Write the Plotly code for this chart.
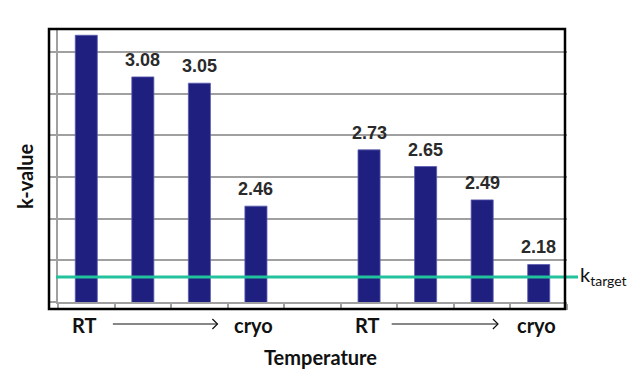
import plotly.graph_objects as go

# ---- data ----
positions = [0, 1, 2, 3, 4, 5, 6, 7, 8]
k_values = [3.28, 3.08, 3.05, 2.46, None, 2.73, 2.65, 2.49, 2.18]
bar_labels = ["", "3.08", "3.05", "2.46", "", "2.73", "2.65", "2.49", "2.18"]
k_target = 2.12
group_labels = ["RT", "cryo", "RT", "cryo"]
group_label_pos = [0, 3, 5, 8]
y_ticks = [2.0, 2.2, 2.4, 2.6, 2.8, 3.0, 3.2]
y_range = [2.0, 3.31]

# page body has an 8px default margin; compensate
OFF = 8
W, H = 640 - OFF, 382 - OFF
L, R, T, B = 58 - OFF, 73, 29 - OFF, 80
pw, ph = W - L - R, H - T - B


def px_x(px):
    return (px - OFF - L) / pw


def px_y(py):
    return (T + ph - (py - OFF)) / ph


fig = go.Figure()
fig.add_trace(go.Bar(
    x=positions, y=[v if v is not None else 0 for v in k_values],
    width=0.39,
    marker=dict(color="#1F1F80", line=dict(color="#5A5AB0", width=0.8)),
    hoverinfo="skip", showlegend=False,
))

annotations = []
for x, v, t in zip(positions, k_values, bar_labels):
    if v is not None and t:
        annotations.append(dict(
            x=x, y=v, xref="x", yref="y", text="<b>%s</b>" % t, showarrow=False,
            yanchor="bottom", yshift=5,
            font=dict(family="Liberation Sans, Arial", size=18, color="#2a2a2a"),
        ))

for x, t in zip(group_label_pos, group_labels):
    annotations.append(dict(
        x=x, y=px_y(325), xref="x", yref="paper", text="<b>%s</b>" % t,
        showarrow=False, yanchor="middle", xshift=-2,
        font=dict(family="Lato, Open Sans", size=20, color="#111111"),
    ))

shapes = []
# arrows between RT and cryo
for x0, x1 in [(0.47, 2.32), (5.4, 7.28)]:
    shapes.append(dict(type="line", xref="x", yref="paper", x0=x0, x1=x1,
                       y0=px_y(324), y1=px_y(324),
                       line=dict(color="#111111", width=1.2)))
    shapes.append(dict(type="path", xref="x", yref="paper",
                       path="M %f,%f L %f,%f L %f,%f" % (
                           x1 - 0.09, px_y(319), x1, px_y(324), x1 - 0.09, px_y(329)),
                       line=dict(color="#111111", width=1.2)))

annotations.append(dict(
    x=px_x(320), y=px_y(357), xref="paper", yref="paper",
    text="<b>Temperature</b>", showarrow=False, yanchor="middle",
    font=dict(family="Lato, Open Sans", size=20, color="#111111"),
))
annotations.append(dict(
    x=px_x(25), y=px_y(177), xref="paper", yref="paper",
    text="<b>k-value</b>", showarrow=False, textangle=-90,
    xanchor="center", yanchor="middle",
    font=dict(family="Lato, Open Sans", size=20, color="#111111"),
))
annotations.append(dict(
    x=px_x(578), y=k_target, xref="paper", yref="y",
    text="k<sub>target</sub>", showarrow=False, xanchor="left", yanchor="middle",
    yshift=1,
    font=dict(family="Lato, Open Sans", size=20, color="#111111"),
))

shapes += [
    dict(type="line", xref="paper", yref="y", x0=px_x(56), x1=px_x(578),
         y0=k_target, y1=k_target, line=dict(color="#22C29C", width=3)),
    dict(type="rect", xref="paper", yref="paper",
         x0=px_x(49), x1=px_x(565), y0=px_y(309), y1=px_y(29),
         line=dict(color="#000000", width=2.5), layer="above"),
]

fig.update_layout(
    width=W, height=H,
    margin=dict(l=L, r=R, t=T, b=B, pad=0),
    paper_bgcolor="white", plot_bgcolor="white",
    annotations=annotations, shapes=shapes,
    xaxis=dict(range=[-0.5, 8.5], tickvals=[i + 0.5 for i in range(-1, 9)],
               showticklabels=False, ticks="outside", ticklen=6,
               tickcolor="#A0A0A0", tickwidth=1.5, showgrid=False,
               zeroline=False, showline=True, linecolor="#A0A0A0", linewidth=1.5,
               fixedrange=True),
    yaxis=dict(range=y_range, tickvals=y_ticks, showticklabels=False,
               ticks="outside", ticklen=6, tickcolor="#A0A0A0", tickwidth=1.5,
               showgrid=True, gridcolor="#A0A0A0", gridwidth=1.5,
               zeroline=False, showline=True, linecolor="#A0A0A0", linewidth=1.5,
               fixedrange=True),
    bargap=0.6,
)

fig.write_html("out.html")
